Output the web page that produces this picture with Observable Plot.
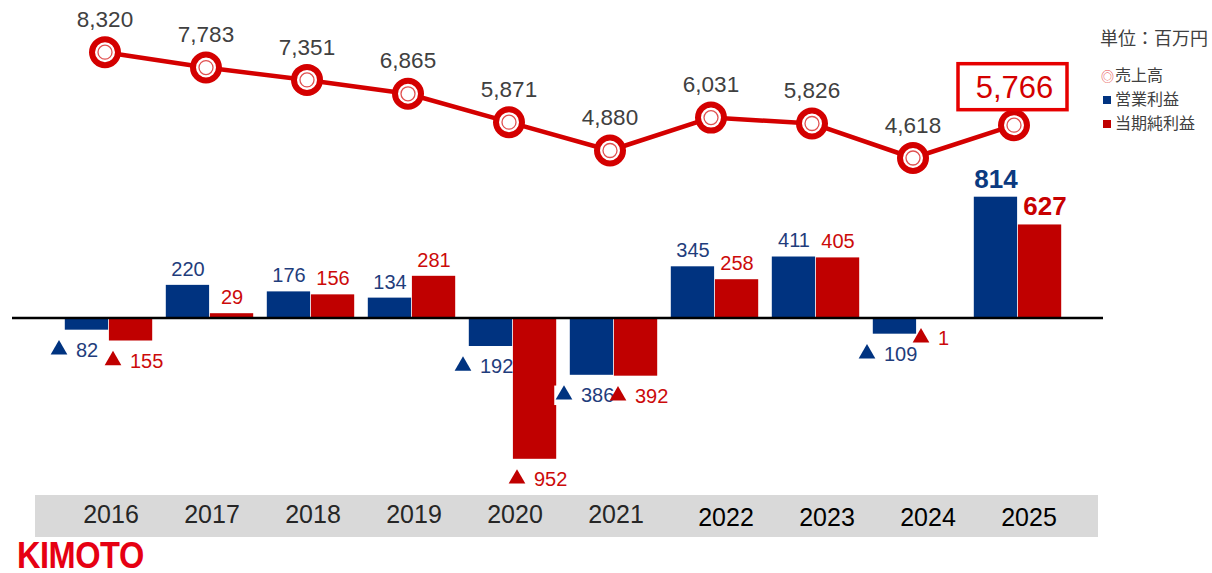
<!DOCTYPE html>
<html>
<head>
<meta charset="utf-8">
<script src="https://cdn.jsdelivr.net/npm/d3@7"></script>
<script src="https://cdn.jsdelivr.net/npm/@observablehq/plot@0.6"></script>
<style>
  body { margin: 0; background: #fff; }
  #chart { position: relative; width: 1212px; height: 573px; overflow: hidden; font-family: "Liberation Sans", Arial, sans-serif; }
  #chart svg { position: absolute; left: 0; top: 0; }
  .band { position: absolute; left: 35px; top: 495px; width: 1063px; height: 42px; background: #d9d9d9; }
  .unit { position: absolute; left: 1100px; top: 26px; font-size: 18px; line-height: 22px; font-family: "Noto Sans CJK JP", sans-serif; color: #404040; white-space: nowrap; }
  .legend { position: absolute; left: 1100px; top: 63px; font-size: 16px; line-height: 23.3px; font-family: "Noto Sans CJK JP", sans-serif; color: #404040; white-space: nowrap; }
  .legend .sym { display: inline-block; width: 15px; text-align: center; font-size: 13px; color: #e84848; }
  .legend .sq { display: inline-block; width: 8px; height: 8px; margin: 0 4px 1px 3px; }
  .logo { position: absolute; left: 17px; top: 536px; font: bold 35px/35px "Liberation Sans", Arial, sans-serif; color: #e60012; transform: scaleX(0.93) scaleY(1.08); transform-origin: left top; letter-spacing: -0.5px; }
</style>
</head>
<body>
<div id="chart">
  <div class="band"></div>
  <div class="unit">単位：百万円</div>
  <div class="legend">
    <div><span class="sym">◎</span>売上高</div>
    <div><span class="sq" style="background:#003380"></span>営業利益</div>
    <div><span class="sq" style="background:#c00000"></span>当期純利益</div>
  </div>
  <div class="logo">KIMOTO</div>
</div>
<script>
// ---- data ----
const years = [2016, 2017, 2018, 2019, 2020, 2021, 2022, 2023, 2024, 2025];
const sales = [8320, 7783, 7351, 6865, 5871, 4880, 6031, 5826, 4618, 5766];
const operatingIncome = [-82, 220, 176, 134, -192, -386, 345, 411, -109, 814];
const netIncome = [-155, 29, 156, 281, -952, -392, 258, 405, -1, 627];

const NAVY = "#003380", RED = "#c00000", LINE = "#d40000";
const BLUE_TXT = "#1f3d7c", RED_TXT = "#cc0a0a";

const rows = years.map((year, i) => ({year, sales: sales[i], op: operatingIncome[i], net: netIncome[i], last: i === years.length - 1}));
const fmt = v => d3.format(",")(Math.abs(v));
const lastYear = years[years.length - 1];
const baseStyle = {background: "transparent", fontFamily: "'Liberation Sans', Arial, sans-serif", overflow: "visible"};

// ---- sales line (top) ----
const salesPlot = Plot.plot({
  width: 1212, height: 573,
  marginLeft: 54, marginRight: 140.3, marginTop: 0, marginBottom: 0,
  style: baseStyle,
  x: {type: "point", domain: years, padding: 0.5, axis: null},
  y: {domain: [4618, 8320], range: [157.5, 51.7], axis: null},
  marks: [
    Plot.line(rows, {x: "year", y: "sales", stroke: LINE, strokeWidth: 4.5, dx: -3.5}),
    Plot.dot(rows, {x: "year", y: "sales", r: 13, fill: "white", stroke: LINE, strokeWidth: 6, dx: -3.5}),
    Plot.dot(rows, {x: "year", y: "sales", r: 7, fill: "white", stroke: "#e05050", strokeWidth: 1.3, dx: -3.5}),
    Plot.text(rows.filter(d => !d.last), {x: "year", y: "sales", text: d => fmt(d.sales), dy: -32.5, dx: -3.5, fontSize: 22.5, fill: "#404040"}),
    (index, scales) => {
      const cx = scales.x(lastYear) - 5;
      const cy = scales.y(sales[sales.length - 1]) - 38;
      const g = d3.create("svg:g");
      g.append("rect").attr("x", cx - 54).attr("y", cy - 23).attr("width", 109).attr("height", 46)
        .attr("fill", "white").attr("stroke", "#e60000").attr("stroke-width", 3.5);
      return g.node();
    },
    Plot.text(rows.filter(d => d.last), {x: "year", y: "sales", text: d => fmt(d.sales), dy: -37, dx: -3, fontSize: 31, fill: "#d40000"})
  ]
});

// ---- bars (bottom) ----
const pos = (key) => rows.filter(d => d[key] >= 0 && !d.last);
const neg = (key) => rows.filter(d => d[key] < 0);
const barPlot = Plot.plot({
  width: 1212, height: 573,
  marginLeft: 12, marginRight: 109, marginTop: 0, marginBottom: 60,
  style: baseStyle,
  x: {type: "band", domain: years, range: [54, 1071.7], padding: 0, axis: null},
  y: {domain: [-952, 814], range: [458.8, 196.7], axis: null},
  symbol: {type: "identity"},
  marks: [
    Plot.barY(rows, {x: "year", y: "op", fill: NAVY, insetLeft: 6.8, insetRight: 50.9}),
    Plot.barY(rows, {x: "year", y: "net", fill: RED, insetLeft: 50.9, insetRight: 6.8}),
    Plot.ruleY([0], {stroke: "#000", strokeWidth: 2.5}),
    // positive labels
    Plot.text(pos("op"), {x: "year", y: "op", text: d => fmt(d.op), dx: -22, dy: -16, fontSize: 20, fill: BLUE_TXT}),
    Plot.text(pos("net"), {x: "year", y: "net", text: d => fmt(d.net), dx: 22, dy: -16, fontSize: 20, fill: RED_TXT}),
    // highlighted latest year
    Plot.text(rows.filter(d => d.last), {x: "year", y: "op", text: d => fmt(d.op), dx: -22, dy: -18, fontSize: 26, fontWeight: "bold", fill: "#0b3a80"}),
    Plot.text(rows.filter(d => d.last), {x: "year", y: "net", text: d => fmt(d.net), dx: 27, dy: -18, fontSize: 26, fontWeight: "bold", fill: "#c80000"}),
    // negative labels: ▲ marker + absolute value
    Plot.dot(neg("op"), {x: "year", y: "op", symbol: "square", r: 11, fill: "white", dx: -50, dy: 20}),
    Plot.dot(neg("op"), {x: "year", y: "op", symbol: "triangle", r: 6.2, fill: NAVY, dx: -50, dy: 19.5}),
    Plot.text(neg("op"), {x: "year", y: "op", text: d => fmt(d.op), textAnchor: "start", dx: -33, dy: 20.5, fontSize: 20, fill: BLUE_TXT}),
    Plot.dot(neg("net"), {x: "year", y: "net", symbol: "triangle", r: 6.2, fill: RED, dx: 4, dy: 19.5}),
    Plot.text(neg("net"), {x: "year", y: "net", text: d => fmt(d.net), textAnchor: "start", dx: 21, dy: 20.5, fontSize: 20, fill: RED_TXT}),
    // year labels
    Plot.text(years.slice(0, 6), {x: d => d, text: d => String(d), frameAnchor: "bottom", lineAnchor: "middle", dy: 1, dx: 2, fontSize: 25, fill: "#262626"}),
    Plot.text(years.slice(6), {x: d => d, text: d => String(d), frameAnchor: "bottom", lineAnchor: "middle", dy: 4.5, dx: 11, fontSize: 25, fill: "#000"})
  ]
});

const chart = document.getElementById("chart");
const band = chart.querySelector(".band");
band.after(salesPlot, barPlot);
</script>
</body>
</html>
